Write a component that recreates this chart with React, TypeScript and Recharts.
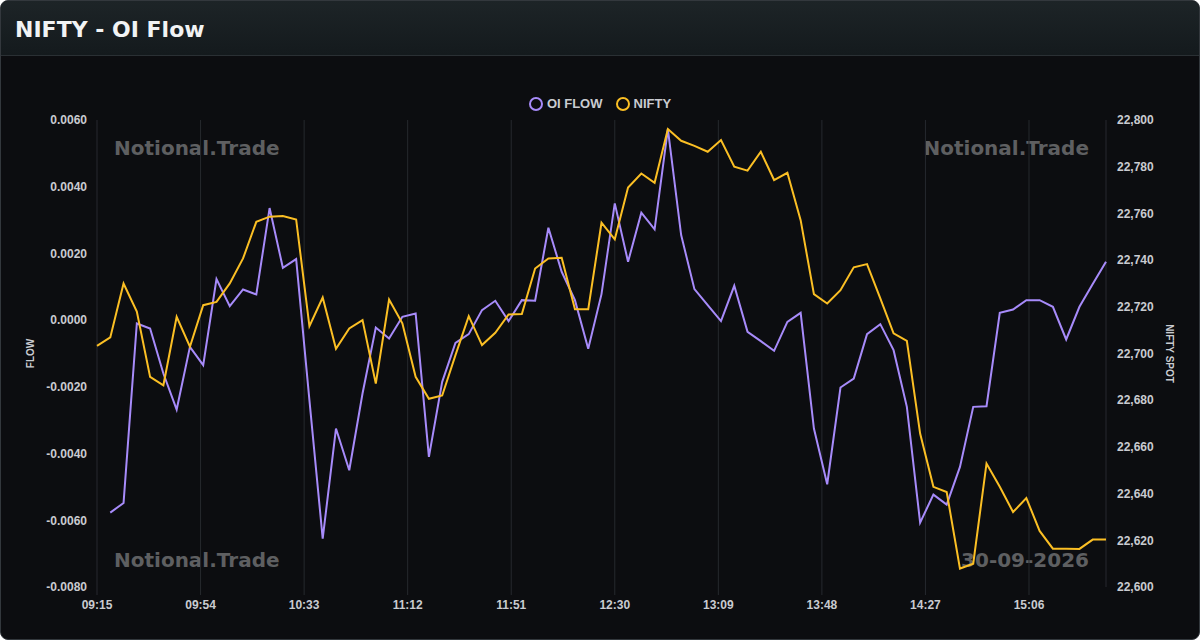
import React from 'react';
import { LineChart, Line, XAxis, YAxis, CartesianGrid } from 'recharts';

// 5-minute bars starting 09:15
const SESSION_START = '09:15';
const BAR_MINUTES = 5;

const X_TICKS = ['09:15', '09:54', '10:33', '11:12', '11:51', '12:30', '13:09', '13:48', '14:27', '15:06'];
const FLOW_TICKS = [-0.008, -0.006, -0.004, -0.002, 0, 0.002, 0.004, 0.006];
const SPOT_TICKS = [22600, 22620, 22640, 22660, 22680, 22700, 22720, 22740, 22760, 22780, 22800];

const OI_FLOW = [
  null, -0.00577, -0.00548, -0.0001, -0.00025, -0.0016, -0.00268, -0.0008, -0.00135, 0.00123,
  0.00042, 0.00092, 0.00077, 0.00336, 0.00157, 0.00183, -0.0024, -0.00655, -0.00325, -0.0045,
  -0.0022, -0.00022, -0.00055, 0.0001, 0.0002, -0.0041, -0.00185, -0.00068, -0.00042, 0.0003,
  0.00058, -0.00003, 0.0006, 0.00058, 0.00277, 0.00145, 0.0006, -0.00086, 0.00078, 0.0035,
  0.00175, 0.00322, 0.00272, 0.00573, 0.00255, 0.00093, 0.00045, -0.00003, 0.00103, -0.00035,
  -0.00063, -0.00092, -0.00005, 0.00022, -0.00325, -0.00492, -0.00202, -0.00175, -0.00042, -0.00012,
  -0.0009, -0.0026, -0.00607, -0.00523, -0.00553, -0.0044, -0.0026, -0.00258, 0.00022, 0.00032,
  0.0006, 0.0006, 0.0004, -0.00058, 0.0004, 0.00108, 0.00175,
];

const NIFTY = [
  22703.3, 22706.9, 22730.0, 22718.0, 22690.0, 22686.4, 22715.7, 22702.9, 22720.7, 22722.1,
  22730.0, 22740.7, 22756.4, 22758.6, 22758.9, 22757.4, 22711.7, 22724.0, 22702.0, 22710.7,
  22714.3, 22687.1, 22723.1, 22712.9, 22690.0, 22680.6, 22682.0, 22699.3, 22716.0, 22703.6,
  22708.9, 22716.7, 22716.9, 22736.4, 22740.7, 22741.0, 22718.9, 22718.9, 22756.0, 22748.9,
  22771.1, 22777.1, 22773.1, 22796.1, 22791.1, 22788.9, 22786.4, 22791.4, 22780.0, 22778.3,
  22786.4, 22774.3, 22777.4, 22757.1, 22725.4, 22721.4, 22727.1, 22736.9, 22738.3, 22723.6,
  22708.6, 22705.4, 22665.7, 22642.9, 22640.7, 22607.9, 22610.0, 22652.9, 22642.9, 22632.1,
  22638.1, 22624.0, 22616.4, 22616.4, 22616.3, 22620.3, 22620.3,
];

const toMin = (s: string) => {
  const [h, m] = s.split(':').map(Number);
  return h * 60 + m;
};
const fmtTime = (min: number) => {
  const h = Math.floor(min / 60);
  const m = min % 60;
  return `${String(h).padStart(2, '0')}:${String(m).padStart(2, '0')}`;
};

const start = toMin(SESSION_START);
const data = NIFTY.map((spot, i) => ({
  min: start + i * BAR_MINUTES,
  flow: OI_FLOW[i],
  spot,
}));

const PURPLE = '#a78bfa';
const YELLOW = '#fbbf24';
const GRID = '#26292e';
const SANS = '"Liberation Sans", Arial, sans-serif';
const TICK = { fill: '#c9cbd0', fontSize: 12, fontWeight: 700, fontFamily: SANS };

const watermark: React.CSSProperties = {
  position: 'absolute',
  fontFamily: '"DejaVu Sans", sans-serif',
  fontWeight: 700,
  fontSize: 20,
  lineHeight: '20px',
  color: '#5e5f61',
  whiteSpace: 'nowrap',
};

function LegendItem({ color, label, first }: { color: string; label: string; first?: boolean }) {
  return (
    <span style={{ display: 'inline-flex', alignItems: 'center', marginLeft: first ? 0 : 13 }}>
      <span
        style={{
          width: 14,
          height: 14,
          boxSizing: 'border-box',
          borderRadius: '50%',
          border: `2px solid ${color}`,
          marginRight: 4,
        }}
      />
      <span>{label}</span>
    </span>
  );
}

export default function App() {
  const xTicks = X_TICKS.map(toMin);
  return (
    <div
      style={{
        position: 'absolute',
        left: 0,
        top: 0,
        width: 1200,
        height: 640,
        boxSizing: 'border-box',
        border: '1px solid #33383d',
        borderRadius: 8,
        background: '#0c0d10',
        overflow: 'hidden',
      }}
    >
      <div
        style={{
          height: 55,
          boxSizing: 'border-box',
          borderBottom: '1px solid #2a3034',
          background: 'linear-gradient(#1d2427, #141a1d)',
          display: 'flex',
          alignItems: 'center',
          paddingLeft: 14,
          paddingTop: 3,
          fontFamily: '"DejaVu Sans", sans-serif',
          fontWeight: 700,
          fontSize: 22,
          color: '#f1f3f4',
        }}
      >
        NIFTY - OI Flow
      </div>

      <div style={{ ...watermark, left: 113, top: 137 }}>Notional.Trade</div>
      <div style={{ ...watermark, right: 110, top: 137 }}>Notional.Trade</div>
      <div style={{ ...watermark, left: 113, top: 549 }}>Notional.Trade</div>
      <div style={{ ...watermark, right: 110, top: 549 }}>30-09-2026</div>

      <div
        style={{
          position: 'absolute',
          top: 95,
          left: 0,
          width: 1198,
          display: 'flex',
          justifyContent: 'center',
          fontFamily: SANS,
          fontWeight: 700,
          fontSize: 13,
          lineHeight: '16px',
          color: '#c9cbd0',
        }}
      >
        <LegendItem color={PURPLE} label="OI FLOW" first />
        <LegendItem color={YELLOW} label="NIFTY" />
      </div>

      <div style={{ position: 'absolute', left: -1, top: -1 }}>
        <LineChart width={1200} height={640} data={data} margin={{ top: 120, right: 0, bottom: 0, left: 0 }}>
          <CartesianGrid horizontal={false} stroke={GRID} />
          <XAxis
            dataKey="min"
            type="number"
            domain={[start, start + 380]}
            ticks={xTicks}
            tickFormatter={fmtTime}
            height={53}
            axisLine={false}
            tickLine={{ stroke: GRID }}
            tickSize={8}
            tickMargin={5}
            tick={TICK}
          />
          <YAxis
            yAxisId="flow"
            orientation="left"
            width={97}
            domain={[-0.008, 0.006]}
            ticks={FLOW_TICKS}
            tickFormatter={(v: number) => v.toFixed(4)}
            axisLine={false}
            tickLine={false}
            tickMargin={4}
            tick={TICK}
            label={{
              value: 'FLOW',
              angle: -90,
              position: 'insideLeft',
              offset: 30,
              style: { textAnchor: 'middle', fill: '#c9cbd0', fontSize: 10, fontWeight: 700, fontFamily: SANS },
            }}
          />
          <YAxis
            yAxisId="spot"
            orientation="right"
            width={94}
            domain={[22600, 22800]}
            ticks={SPOT_TICKS}
            tickFormatter={(v: number) => v.toLocaleString('en-US')}
            axisLine={false}
            tickLine={false}
            tickMargin={5}
            tick={TICK}
            label={{
              value: 'NIFTY SPOT',
              angle: 90,
              position: 'insideRight',
              offset: 30,
              style: { textAnchor: 'middle', fill: '#c9cbd0', fontSize: 10, fontWeight: 700, fontFamily: SANS },
            }}
          />
          <Line
            yAxisId="flow"
            dataKey="flow"
            stroke={PURPLE}
            strokeWidth={2}
            dot={false}
            type="linear"
            connectNulls={false}
            isAnimationActive={false}
          />
          <Line
            yAxisId="spot"
            dataKey="spot"
            stroke={YELLOW}
            strokeWidth={2}
            dot={false}
            type="linear"
            isAnimationActive={false}
          />
        </LineChart>
      </div>
    </div>
  );
}
